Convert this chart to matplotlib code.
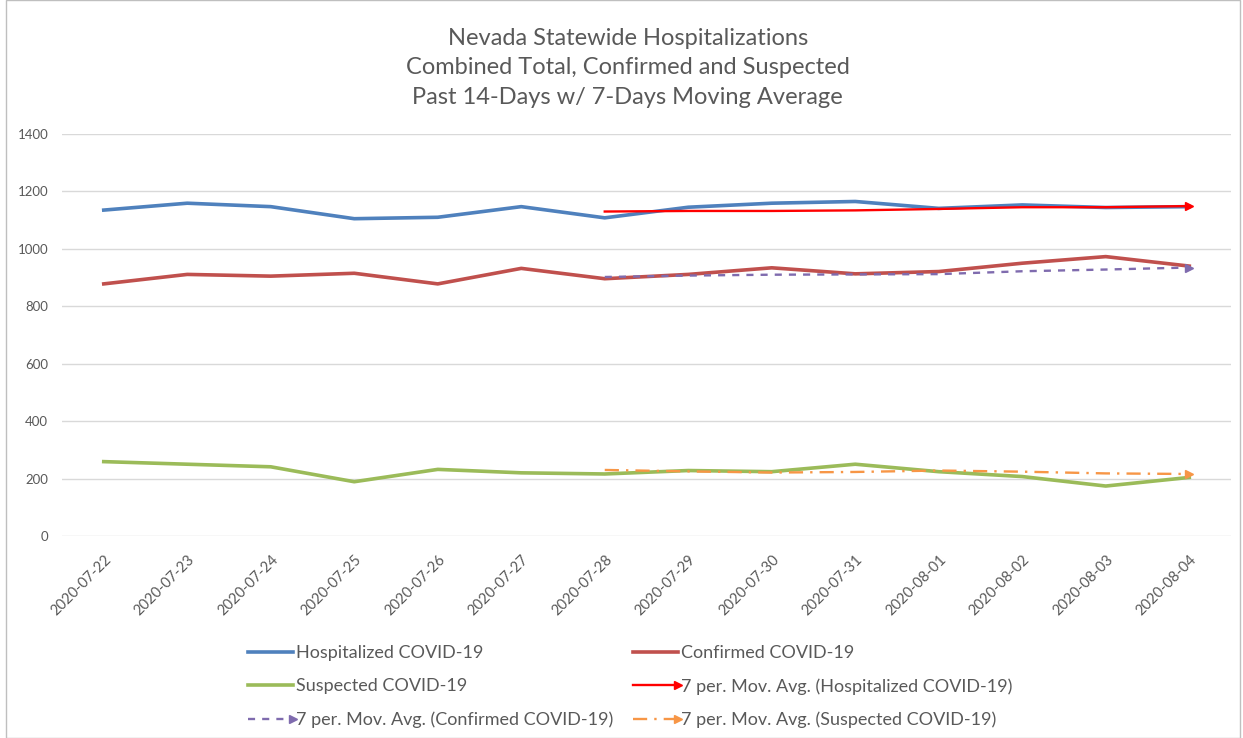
import matplotlib
matplotlib.use("Agg")
import matplotlib.pyplot as plt
from matplotlib.patches import Rectangle
from matplotlib.legend_handler import HandlerLine2D

plt.rcParams['font.family'] = ['Lato', 'DejaVu Sans']

dates = ['2020-07-22', '2020-07-23', '2020-07-24', '2020-07-25', '2020-07-26',
         '2020-07-27', '2020-07-28', '2020-07-29', '2020-07-30', '2020-07-31',
         '2020-08-01', '2020-08-02', '2020-08-03', '2020-08-04']
hospitalized = [1135, 1159, 1147, 1105, 1110, 1147, 1108, 1145, 1159, 1165, 1141, 1153, 1144, 1147]
confirmed = [878, 911, 905, 915, 878, 932, 896, 911, 934, 913, 921, 950, 973, 940]
suspected = [259, 250, 241, 189, 232, 220, 216, 228, 224, 250, 224, 207, 174, 204]

# 7 period moving average trendlines, starting at the 7th date
ma_dates = dates[6:]
ma_hosp = [1130, 1132, 1132, 1134, 1139, 1145, 1145, 1149]
ma_conf = [902, 907, 910, 911, 912, 922, 928, 935]
ma_susp = [230, 225, 221, 223, 228, 224, 218, 216]


class ArrowEndHandler(HandlerLine2D):
    # legend sample with the arrow head only on the right end
    def create_artists(self, *args, **kwargs):
        arts = super().create_artists(*args, **kwargs)
        for a in arts:
            a.set_markevery([len(a.get_xdata()) - 1])
        return arts


grey = '#595959'
fig = plt.figure(figsize=(12.43, 7.38), dpi=100)
ax = fig.add_axes([62 / 1243, 1 - 536 / 738, (1231 - 62) / 1243, (536 - 134) / 738])

x = list(range(len(dates)))
xm = [dates.index(d) for d in ma_dates]
last = [len(xm) - 1]

l1, = ax.plot(x, hospitalized, color='#4F81BD', lw=2.6, label='Hospitalized COVID-19')
l2, = ax.plot(x, confirmed, color='#C0504D', lw=2.6, label='Confirmed COVID-19')
l3, = ax.plot(x, suspected, color='#9BBB59', lw=2.6, label='Suspected COVID-19')
l4, = ax.plot(xm, ma_hosp, color='#FF0000', lw=1.7, marker='>', markersize=5.5,
              markevery=last, label='7 per. Mov. Avg. (Hospitalized COVID-19)')
l5, = ax.plot(xm, ma_conf, color='#7F6BAE', lw=1.7, ls=(0, (3, 3)), marker='>', markersize=5.5,
              markevery=last, label='7 per. Mov. Avg. (Confirmed COVID-19)')
l6, = ax.plot(xm, ma_susp, color='#F79646', lw=1.7, ls=(0, (6, 3, 1, 3)), marker='>', markersize=5.5,
              markevery=last, label='7 per. Mov. Avg. (Suspected COVID-19)')

ax.set_xlim(-0.5, len(dates) - 0.5)
ax.set_ylim(0, 1400)
ax.set_yticks(range(0, 1401, 200))
ax.set_xticks(x)
ax.set_xticklabels(dates, rotation=45, ha='right', rotation_mode='anchor')
ax.tick_params(axis='both', length=0, colors=grey)
ax.tick_params(axis='y', labelsize=9.5, pad=10)
ax.tick_params(axis='x', labelsize=10.5, pad=12)
ax.grid(axis='y', color='#D9D9D9', lw=1)
ax.set_axisbelow(True)
for s in ax.spines.values():
    s.set_visible(False)

fig.text(0.505, 1 - 68 / 738, 'Nevada Statewide Hospitalizations\nCombined Total, Confirmed and Suspected\n'
         'Past 14-Days w/ 7-Days Moving Average', ha='center', va='center',
         fontsize=17, color=grey, linespacing=1.5)

handles = [l1, l3, l5, l2, l4, l6]
arrow_h = ArrowEndHandler()
fig.legend(handles=handles, labels=[h.get_label() for h in handles], ncol=2,
           loc='lower center', bbox_to_anchor=(630 / 1243, -0.009), frameon=False,
           fontsize=13, handlelength=2.5, handletextpad=0.15, columnspacing=1.1,
           labelspacing=0.95, labelcolor=grey,
           handler_map={l4: arrow_h, l5: arrow_h, l6: arrow_h})

fig.patches.append(Rectangle((6 / 1243, 0.0), 1 - 9 / 1243, 1.0, transform=fig.transFigure,
                             fill=False, edgecolor='#BFBFBF', lw=1))

fig.savefig('out.png', dpi=100)
